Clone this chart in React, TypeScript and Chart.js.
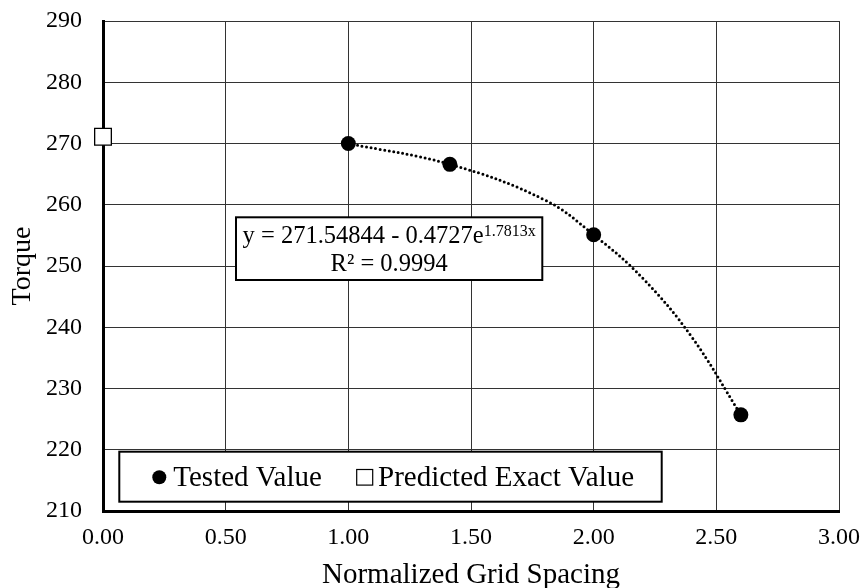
import React, { useEffect, useRef } from 'react';
import { Chart, registerables } from 'chart.js';

Chart.register(...registerables);

// ---- data ----
const testedX = [1.0, 1.414, 2.0, 2.6];
const testedY = [270.0, 266.6, 255.1, 225.7];
const predictedX = [0];
const predictedY = [271.1];
// dotted trend line
const trendX = [1.0, 1.414, 1.8, 2.0, 2.2, 2.4, 2.6];
const trendY = [270.0, 266.6, 260.8, 255.1, 248.0, 238.4, 225.7];

const xMin = 0;
const xMax = 3;
const xStep = 0.5;
const yMin = 210;
const yMax = 290;
const yStep = 10;

const xTitle = 'Normalized Grid Spacing';
const yTitle = 'Torque';
const legendLabels = ['Tested Value', 'Predicted Exact Value'];
const equationMain = 'y = 271.54844 - 0.4727e';
const equationExp = '1.7813x';
const r2Text = 'R² = 0.9994';

const FONT = "'Liberation Serif', 'Times New Roman', serif";

const overlayPlugin = {
  id: 'overlay',
  beforeDatasetsDraw(chart: any) {
    const ctx = chart.ctx as CanvasRenderingContext2D;
    const a = chart.chartArea;
    ctx.save();

    // equation box
    const ex = a.left + 133;
    const ey = a.top + 196.3;
    const ew = 306.3;
    const eh = 62.7;
    ctx.fillStyle = '#fff';
    ctx.fillRect(ex, ey, ew, eh);
    ctx.lineWidth = 2;
    ctx.strokeStyle = '#000';
    ctx.strokeRect(ex, ey, ew, eh);
    const cx = ex + ew / 2;
    ctx.fillStyle = '#000';
    ctx.textBaseline = 'alphabetic';
    ctx.font = `24.5px ${FONT}`;
    const mw = ctx.measureText(equationMain).width;
    ctx.font = `16px ${FONT}`;
    const sw = ctx.measureText(equationExp).width;
    const startX = cx - (mw + sw) / 2;
    ctx.textAlign = 'left';
    ctx.font = `24.5px ${FONT}`;
    ctx.fillText(equationMain, startX, ey + 26);
    ctx.font = `16px ${FONT}`;
    ctx.fillText(equationExp, startX + mw, ey + 19);
    ctx.font = `24.5px ${FONT}`;
    ctx.textAlign = 'center';
    ctx.fillText(r2Text, cx, ey + 53.7);

    // legend box
    const lx = a.left + 16.3;
    const ly = a.top + 430.7;
    const lw = 542.4;
    const lh = 50;
    ctx.fillStyle = '#fff';
    ctx.fillRect(lx, ly, lw, lh);
    ctx.lineWidth = 2;
    ctx.strokeStyle = '#000';
    ctx.strokeRect(lx, ly, lw, lh);
    const my = ly + 25.6;
    ctx.beginPath();
    ctx.arc(lx + 40, my, 7, 0, Math.PI * 2);
    ctx.fillStyle = '#000';
    ctx.fill();
    ctx.font = `29px ${FONT}`;
    ctx.textAlign = 'left';
    ctx.textBaseline = 'alphabetic';
    ctx.fillText(legendLabels[0], lx + 54, ly + 34);
    ctx.fillStyle = '#fff';
    ctx.fillRect(lx + 237.4, my - 7.8, 16, 15.6);
    ctx.lineWidth = 1.2;
    ctx.strokeStyle = '#000';
    ctx.strokeRect(lx + 237.4, my - 7.8, 16, 15.6);
    ctx.fillStyle = '#000';
    ctx.fillText(legendLabels[1], lx + 258.7, ly + 34);

    ctx.restore();
  },
};

export default function App() {
  const ref = useRef<HTMLCanvasElement | null>(null);

  useEffect(() => {
    if (!ref.current) return;
    const chart = new Chart(ref.current, {
      type: 'scatter',
      data: {
        datasets: [
          {
            label: 'Trend',
            data: trendX.map((x, i) => ({ x, y: trendY[i] })),
            showLine: true,
            borderColor: '#000',
            borderWidth: 3,
            borderDash: [0, 4.6],
            borderCapStyle: 'round',
            tension: 0.4,
            pointRadius: 0,
            order: 3,
            clip: false,
          } as any,
          {
            label: legendLabels[0],
            data: testedX.map((x, i) => ({ x, y: testedY[i] })),
            backgroundColor: '#000',
            borderColor: '#000',
            borderWidth: 0,
            pointRadius: 7.5,
            pointStyle: 'circle',
            order: 1,
            clip: false,
          } as any,
          {
            label: legendLabels[1],
            data: predictedX.map((x, i) => ({ x, y: predictedY[i] })),
            backgroundColor: '#fff',
            borderColor: '#000',
            borderWidth: 1.3,
            pointRadius: 11.8,
            pointStyle: 'rect',
            order: 0,
            clip: false,
          } as any,
        ],
      },
      options: {
        animation: false,
        responsive: false,
        devicePixelRatio: 1,
        layout: { padding: { top: 21, right: 24, left: 0, bottom: 0 } },
        plugins: {
          legend: { display: false },
          tooltip: { enabled: false },
        },
        scales: {
          x: {
            type: 'linear',
            min: xMin,
            max: xMax,
            afterFit: (s: any) => {
              s.height = 77;
              s.paddingLeft = 0;
              s.paddingRight = 0;
            },
            afterBuildTicks: (s: any) => {
              const t = [];
              for (let v = xMin; v <= xMax + 1e-9; v += xStep) t.push({ value: +v.toFixed(4) });
              s.ticks = t;
            },
            ticks: {
              callback: (v: any) => Number(v).toFixed(2),
              color: '#000',
              font: { family: FONT, size: 24 },
              padding: 12,
              maxRotation: 0,
            },
            grid: { color: '#333', lineWidth: 1, drawTicks: false },
            border: { display: true, color: '#000', width: 3 },
            title: {
              display: true,
              text: xTitle,
              color: '#000',
              font: { family: FONT, size: 29, lineHeight: 1 },
              padding: { top: 0, bottom: -2 },
            },
          },
          y: {
            type: 'linear',
            min: yMin,
            max: yMax,
            afterFit: (s: any) => {
              s.width = 103;
              s.paddingTop = 0;
              s.paddingBottom = 0;
            },
            afterBuildTicks: (s: any) => {
              const t = [];
              for (let v = yMin; v <= yMax + 1e-9; v += yStep) t.push({ value: v });
              s.ticks = t;
            },
            ticks: {
              callback: (v: any) => String(v),
              color: '#000',
              font: { family: FONT, size: 24 },
              padding: 21,
            },
            grid: { color: '#333', lineWidth: 1, drawTicks: false },
            border: { display: true, color: '#000', width: 3 },
            title: {
              display: true,
              text: yTitle,
              color: '#000',
              font: { family: FONT, size: 28, lineHeight: 1 },
              padding: { top: 9, bottom: 0 },
            },
          },
        },
      },
      plugins: [overlayPlugin],
    });
    return () => chart.destroy();
  }, []);

  return (
    <div style={{ position: 'absolute', left: 0, top: 0, width: 863, height: 588, background: '#fff' }}>
      <canvas ref={ref} width={863} height={588} style={{ display: 'block' }} />
    </div>
  );
}
